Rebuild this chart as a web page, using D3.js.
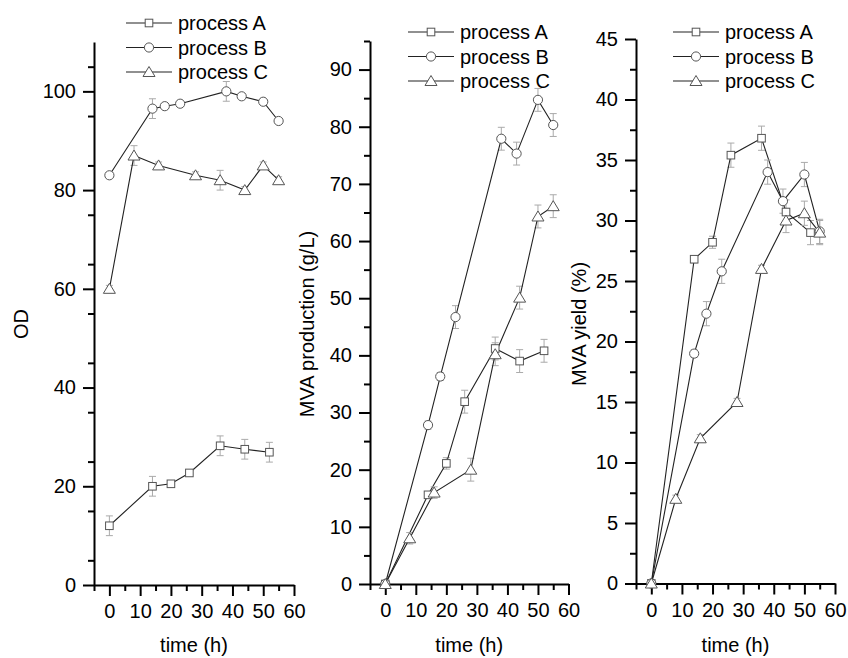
<!DOCTYPE html>
<html>
<head>
<meta charset="utf-8">
<script src="https://cdn.jsdelivr.net/npm/d3@7"></script>
<style>
  html, body { margin: 0; padding: 0; background: #fff; }
  svg { display: block; }
  text { font-family: "Liberation Sans", Arial, sans-serif; fill: #000; }
</style>
</head>
<body>
<svg id="chart" width="848" height="658"></svg>
<script>
// ---------- DATA ----------
const seriesNames = ["process A", "process B", "process C"];
const xTicks = [0, 10, 20, 30, 40, 50, 60];

// time points (h)
const timeA = [0, 14, 20, 26, 36, 44, 52];
const timeB = [0, 14, 18, 23, 38, 43, 50, 55];
const timeC = [0, 8, 16, 28, 36, 44, 50, 55];

// Panel 1: OD
const odA = [12, 20, 20.5, 22.7, 28.2, 27.5, 26.9];
const odAErr = [2, 2, 0.5, 0.5, 2, 2, 2];
const odB = [83, 96.5, 97, 97.5, 100, 99, 97.9, 94];
const odBErr = [0.5, 2, 0.5, 0.5, 2, 0.5, 0.5, 0.5];
const odC = [60, 87, 85, 83, 82, 80, 85, 82];
const odCErr = [0.7, 2, 0.7, 0.7, 2, 0.7, 0.7, 0.7];
const odTicks = [0, 20, 40, 60, 80, 100];

// Panel 2: MVA production (g/L)
const prodA = [0, 15.6, 21.1, 31.9, 41.2, 39, 40.8];
const prodAErr = [0.3, 0.5, 1, 2, 2, 2, 2];
const prodB = [0, 27.8, 36.3, 46.7, 77.9, 75.3, 84.7, 80.3];
const prodBErr = [0.3, 0.7, 0.7, 2, 2, 2, 2, 2];
const prodC = [0, 8, 16, 20, 40.2, 50.1, 64.3, 66.1];
const prodCErr = [0.3, 1, 1, 2, 2, 2, 2, 2];
const prodTicks = [0, 10, 20, 30, 40, 50, 60, 70, 80, 90];

// Panel 3: MVA yield (%)
const yieldA = [0, 26.8, 28.2, 35.4, 36.8, 30.7, 29];
const yieldAErr = [0.2, 0.3, 0.5, 1, 1, 1, 1];
const yieldB = [0, 19, 22.3, 25.8, 34, 31.6, 33.8, 29.1];
const yieldBErr = [0.2, 0.3, 1, 1, 1, 1, 1, 1];
const yieldC = [0, 7, 12, 15, 26, 30, 30.6, 29];
const yieldCErr = [0.2, 0.3, 0.3, 0.3, 0.3, 1, 1, 1];
const yieldTicks = [0, 5, 10, 15, 20, 25, 30, 35, 40, 45];

// ---------- LAYOUT ----------
const panels = [
  { label: "OD", x0: 94, x1: 294, yTop: 42, yBot: 585, yMax: 110, ticks: odTicks, minorStep: 10,
    labelX: 21, legX: 126, legY: 23,
    series: [[timeA, odA, odAErr], [timeB, odB, odBErr], [timeC, odC, odCErr]] },
  { label: "MVA production (g/L)", x0: 370, x1: 568.5, yTop: 41, yBot: 584, yMax: 95, ticks: prodTicks, minorStep: 10,
    labelX: 307, legX: 408, legY: 32,
    series: [[timeA, prodA, prodAErr], [timeB, prodB, prodBErr], [timeC, prodC, prodCErr]] },
  { label: "MVA yield (%)", x0: 636, x1: 835, yTop: 39, yBot: 583.5, yMax: 45, ticks: yieldTicks, minorStep: 5,
    labelX: 579, legX: 673, legY: 32,
    series: [[timeA, yieldA, yieldAErr], [timeB, yieldB, yieldBErr], [timeC, yieldC, yieldCErr]] }
];

const svg = d3.select("#chart");
const FS = 20;
const shapes = ["square", "circle", "triangle"];

function drawMarker(g, shape, cx, cy) {
  const st = { stroke: "#555", "stroke-width": 1, fill: "#fff" };
  let m;
  if (shape === "square") {
    m = g.append("rect").attr("x", cx - 3.8).attr("y", cy - 3.8).attr("width", 7.6).attr("height", 7.6);
  } else if (shape === "circle") {
    m = g.append("circle").attr("cx", cx).attr("cy", cy).attr("r", 4.6);
  } else {
    m = g.append("path").attr("d", `M${cx},${cy - 5.5}L${cx + 6},${cy + 4.5}L${cx - 6},${cy + 4.5}Z`);
  }
  Object.entries(st).forEach(([k, v]) => m.attr(k, v));
}

panels.forEach(p => {
  const g = svg.append("g");
  const x = d3.scaleLinear().domain([-5, 60]).range([p.x0, p.x1]);
  const y = d3.scaleLinear().domain([0, p.yMax]).range([p.yBot, p.yTop]);

  // minor ticks
  const xMinor = d3.range(-5, 60, 10).map(v => v);
  const yMinor = d3.range(p.minorStep / 2, p.yMax + 0.001, p.minorStep);

  const axStyle = sel => {
    sel.selectAll("path.domain").attr("stroke", "#000").attr("stroke-width", 2);
    sel.selectAll(".tick line").attr("stroke", "#000").attr("stroke-width", 2);
    sel.selectAll(".tick text").attr("font-size", FS).attr("font-family", '"Liberation Sans", Arial, sans-serif').attr("fill", "#000");
  };

  g.append("g").attr("transform", `translate(0,${p.yBot})`)
    .call(d3.axisBottom(x).tickValues(xMinor).tickSize(6).tickFormat("").tickSizeOuter(0))
    .call(axStyle).call(s => s.select("path.domain").remove());
  g.append("g").attr("transform", `translate(${p.x0},0)`)
    .call(d3.axisLeft(y).tickValues(yMinor).tickSize(6).tickFormat("").tickSizeOuter(0))
    .call(axStyle).call(s => s.select("path.domain").remove());

  g.append("g").attr("transform", `translate(0,${p.yBot})`)
    .call(d3.axisBottom(x).tickValues(xTicks).tickSize(11).tickPadding(8).tickSizeOuter(0))
    .call(axStyle);
  g.append("g").attr("transform", `translate(${p.x0},0)`)
    .call(d3.axisLeft(y).tickValues(p.ticks).tickSize(11).tickPadding(7).tickSizeOuter(0))
    .call(axStyle);

  // axis titles
  g.append("text").attr("x", (p.x0 + p.x1) / 2).attr("y", 652)
    .attr("text-anchor", "middle").attr("font-size", FS).text("time (h)");
  g.append("text").attr("transform", `translate(${p.labelX},324) rotate(-90)`)
    .attr("text-anchor", "middle").attr("dy", "0.35em").attr("font-size", FS).text(p.label);

  const line = d3.line().x(d => x(d[0])).y(d => y(d[1]));

  p.series.forEach(([ts, vs, es], si) => {
    const pts = ts.map((t, i) => [t, vs[i], es[i]]);
    // error bars
    const eb = g.append("g").attr("stroke", "#aaa").attr("stroke-width", 1);
    pts.forEach(d => {
      const cx = x(d[0]), yt = y(d[1] + d[2]), yb = y(d[1] - d[2]);
      eb.append("line").attr("x1", cx).attr("x2", cx).attr("y1", yt).attr("y2", yb);
      eb.append("line").attr("x1", cx - 3.5).attr("x2", cx + 3.5).attr("y1", yt).attr("y2", yt);
      eb.append("line").attr("x1", cx - 3.5).attr("x2", cx + 3.5).attr("y1", yb).attr("y2", yb);
    });
    g.append("path").datum(pts).attr("d", line)
      .attr("fill", "none").attr("stroke", "#222").attr("stroke-width", 1.1);
  });
  p.series.forEach(([ts, vs], si) => {
    ts.forEach((t, i) => drawMarker(g, shapes[si], x(t), y(vs[i])));
  });

  // legend
  seriesNames.forEach((name, i) => {
    const ly = p.legY + i * 24.5;
    g.append("line").attr("x1", p.legX).attr("x2", p.legX + 46).attr("y1", ly).attr("y2", ly)
      .attr("stroke", "#222").attr("stroke-width", 1.1);
    drawMarker(g, shapes[i], p.legX + 23, ly);
    g.append("text").attr("x", p.legX + 52).attr("y", ly).attr("dy", "0.35em")
      .attr("font-size", FS).text(name);
  });
});
</script>
</body>
</html>
